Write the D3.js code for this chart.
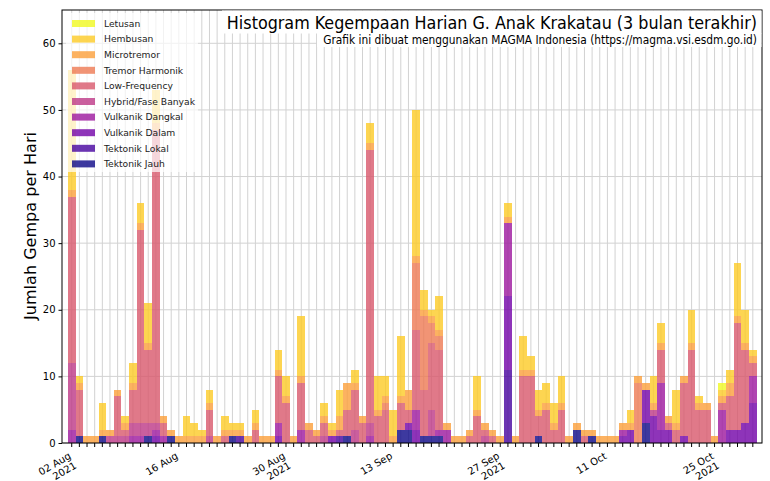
<!DOCTYPE html>
<html><head><meta charset="utf-8">
<script src="https://cdn.jsdelivr.net/npm/d3@7"></script>
<style>body{margin:0;background:#fff} svg{display:block}</style>
</head><body>
<svg id="c" width="770" height="481"></svg>
<script>
// ---------- DATA ----------
const startDate = Date.UTC(2021, 7, 2); // 02 Aug 2021, 90 days
const categories = ["Tektonik Jauh","Tektonik Lokal","Vulkanik Dalam","Vulkanik Dangkal","Hybrid/Fase Banyak","Low-Frequency","Tremor Harmonik","Microtremor","Hembusan","Letusan"];
const tektonikJauh = [0,1,0,0,1,0,0,0,0,0, 1,0,0,1,0,0,0,0,0,0, 0,1,0,0,0,0,0,0,0,0, 0,0,0,0,0,0,1,0,0,0, 0,0,0,2,2,0,1,1,1,0, 0,0,0,0,0,0,0,0,0,0, 0,1,0,0,0,0,2,0,1,0, 0,0,0,0,0,3,0,0,0,0, 0,0,0,0,0,0,0,0,0,0];
const tektonikLokal = [0,0,0,0,0,0,0,0,0,0, 0,0,0,0,0,0,0,0,0,0, 0,0,1,0,0,0,0,0,0,0, 0,0,0,0,0,1,0,0,0,0, 0,0,0,0,0,0,0,0,0,0, 0,0,0,0,0,0,0,11,0,0, 0,0,0,0,0,0,0,0,0,0, 0,0,0,0,0,0,0,0,0,0, 0,0,0,0,0,0,0,0,0,0];
const vulkanikDalam = [0,0,0,0,0,0,0,0,0,0, 0,1,0,0,0,0,0,0,0,0, 0,0,0,0,0,0,0,1,0,0, 0,0,0,0,1,0,0,0,0,0, 0,0,0,0,1,2,0,0,0,0, 0,0,0,0,0,0,0,11,0,0, 0,0,0,0,0,0,0,0,0,0, 0,0,1,2,0,5,4,2,2,0, 1,0,0,0,0,0,2,2,3,6];
const vulkanikDangkal = [2,0,0,0,0,0,0,0,1,1, 0,1,1,0,0,0,0,0,0,0, 0,0,0,0,0,0,0,2,0,0, 2,0,0,0,0,0,0,0,0,1, 0,0,0,0,0,3,0,0,1,2, 0,0,0,0,0,0,0,11,0,0, 0,0,0,0,0,0,0,0,0,0, 0,0,1,0,0,0,0,7,0,0, 0,0,0,0,0,5,0,0,0,4];
const hybrid = [10,0,0,0,0,1,1,1,2,2, 2,1,0,0,0,0,0,0,1,0, 0,0,0,0,0,0,0,0,0,0, 0,0,0,1,0,0,0,2,0,2, 0,0,0,0,0,0,0,4,0,0, 0,0,0,0,1,0,0,0,0,0, 0,0,0,0,0,0,0,0,0,0, 0,0,0,0,0,0,1,0,0,0, 0,0,0,0,0,0,0,0,0,0];
const lowFrequency = [25,7,0,0,0,0,6,1,5,29, 11,44,2,0,0,0,0,0,4,0, 1,0,0,0,2,0,0,7,6,0, 7,2,1,2,0,1,4,6,3,41, 4,5,0,4,2,12,7,10,12,0, 0,0,1,4,1,1,0,0,0,10, 10,3,5,2,5,0,0,1,0,0, 0,0,0,0,0,0,0,5,1,2, 8,14,5,5,0,1,5,16,11,2];
const tremorHarmonik = [0,0,0,0,0,0,0,0,0,0, 0,0,0,0,0,0,0,0,0,0, 0,0,0,0,0,0,0,0,0,0, 0,0,0,0,0,0,0,0,0,0, 0,1,0,0,0,10,11,3,2,0, 0,0,0,0,0,0,0,0,0,0, 0,0,0,0,0,0,0,0,0,0, 0,0,0,0,9,0,0,0,0,0, 0,0,0,0,0,0,0,0,0,0];
const microtremor = [1,1,1,1,1,1,1,1,1,1, 1,1,1,1,1,1,1,1,1,1, 1,1,1,1,1,1,1,1,1,1, 1,1,1,1,1,2,4,1,1,1, 1,1,1,1,3,1,1,1,1,1, 1,1,1,1,1,1,1,1,1,1, 1,1,1,1,1,1,1,1,1,1, 1,1,1,1,1,1,1,1,1,1, 1,1,1,1,1,1,2,1,1,1];
const hembusan = [18,1,0,0,4,0,0,1,3,3, 6,5,0,0,0,3,2,1,2,0, 2,1,1,0,2,0,0,3,3,0, 9,0,0,2,1,4,0,2,0,3, 5,3,4,9,0,22,3,1,5,0, 0,0,0,5,0,0,0,2,0,5, 2,3,3,3,4,0,0,0,0,0, 0,0,0,2,0,0,4,3,0,5, 0,5,1,0,0,1,2,8,5,1];
const letusan = [0,0,0,0,0,0,0,0,0,0, 0,0,0,0,0,0,0,0,0,0, 0,0,0,0,0,0,0,0,0,0, 0,0,0,0,0,0,0,0,0,0, 0,0,0,0,0,0,0,0,0,0, 0,0,0,0,0,0,0,0,0,0, 0,0,0,0,0,0,0,0,0,0, 0,0,0,0,0,0,0,0,0,0, 0,0,0,0,0,1,0,0,0,0];
const yTicks = [0,10,20,30,40,50,60];
const xLabelDays = [0,14,28,42,56,70,84];
const xLabels = [["02 Aug","2021"],["16 Aug"],["30 Aug","2021"],["13 Sep"],["27 Sep","2021"],["11 Oct"],["25 Oct","2021"]];
const titleText = "Histogram Kegempaan Harian G. Anak Krakatau (3 bulan terakhir)";
const subtitleText = "Grafik ini dibuat menggunakan MAGMA Indonesia (https://magma.vsi.esdm.go.id)";
const yLabelText = "Jumlah Gempa per Hari";

// ---------- BUILD ----------
const series = [tektonikJauh,tektonikLokal,vulkanikDalam,vulkanikDangkal,hybrid,lowFrequency,tremorHarmonik,microtremor,hembusan,letusan];
const DAY = 86400000;
const rows = d3.range(90).map(i => {
  const r = {date: new Date(startDate + i*DAY)};
  categories.forEach((c,k) => r[c] = series[k][i]);
  return r;
});
const colors = categories.map((c,k) => d3.interpolatePlasma(k/9));
const color = d3.scaleOrdinal(categories, colors);

const svg = d3.select("#c");
const L = 62, R = 762, T = 10, B = 443;
const x = d3.scaleUtc().domain([new Date(startDate - 1.27*DAY), new Date(startDate + 90.2*DAY)]).range([L, R]);
const y = d3.scaleLinear().domain([0, 65]).range([B, T]);
const font = "DejaVu Sans, sans-serif";
const condFont = "'DejaVu Sans Condensed', 'Liberation Sans Narrow', 'DejaVu Sans', sans-serif";

function fitText(sel, width, base) {
  sel.attr("font-size", base);
  const w = sel.node().getComputedTextLength();
  sel.attr("font-size", (base * width / w).toFixed(2));
  return sel;
}

// grid
const g = svg.append("g");
g.selectAll(".vg").data(rows).join("line")
  .attr("x1", d => x(d.date)).attr("x2", d => x(d.date))
  .attr("y1", T).attr("y2", B).attr("stroke", "#d2d2d2").attr("stroke-width", 1);
g.selectAll(".hg").data(yTicks).join("line")
  .attr("x1", L).attr("x2", R).attr("y1", d => y(d)).attr("y2", d => y(d))
  .attr("stroke", "#d2d2d2").attr("stroke-width", 1);

// bars
const stacked = d3.stack().keys(categories)(rows);
svg.append("g").selectAll("g").data(stacked).join("g")
  .attr("fill", d => color(d.key)).attr("fill-opacity", 0.8)
  .selectAll("rect").data(d => d.filter(p => p[1] > p[0])).join("rect")
  .attr("shape-rendering", "crispEdges")
  .attr("x", d => x(new Date(+d.data.date - DAY/2)))
  .attr("width", d => x(new Date(+d.data.date + DAY/2)) - x(new Date(+d.data.date - DAY/2)))
  .attr("y", d => y(d[1])).attr("height", d => y(d[0]) - y(d[1]));

// frame
svg.append("rect").attr("x", L).attr("y", T).attr("width", R-L).attr("height", B-T)
  .attr("fill", "none").attr("stroke", "#000").attr("stroke-width", 1);

// y axis
const ya = svg.append("g").attr("transform", `translate(${L},0)`)
  .call(d3.axisLeft(y).tickValues(yTicks).tickSize(3.5).tickPadding(3));
ya.select(".domain").remove();
ya.selectAll("text").attr("font-family", font).attr("font-size", 10).attr("fill", "#000");
ya.selectAll("line").attr("stroke", "#000");

// x ticks (daily)
svg.append("g").selectAll("line").data(rows).join("line")
  .attr("x1", d => x(d.date)).attr("x2", d => x(d.date))
  .attr("y1", B).attr("y2", B + 4).attr("stroke", "#000");
const xl = svg.append("g").selectAll("g").data(xLabelDays).join("g")
  .attr("transform", d => `translate(${x(new Date(startDate + d*DAY)) - 4},${B + 8}) rotate(-30)`);
xl.each(function(d, j) {
  const t = d3.select(this).append("text").attr("text-anchor", "end")
    .attr("font-family", font).attr("font-size", 10).attr("fill", "#000");
  xLabels[j].forEach((s, n) => t.append("tspan").attr("x", 0).attr("y", 8 + n*11).text(s));
});

// y label
const yl = svg.append("text").attr("transform", "translate(36,226) rotate(-90)")
  .attr("text-anchor", "middle").attr("font-family", font).text(yLabelText);
fitText(yl, 188, 14);

// title boxes
svg.append("rect").attr("x", 222).attr("y", T+0.5).attr("width", R-222-0.5).attr("height", 23).attr("fill", "#fff");
svg.append("rect").attr("x", 317).attr("y", T+23).attr("width", R-317-0.5).attr("height", 14).attr("fill", "#fff");
const tt = svg.append("text").attr("x", 757).attr("y", 28.5).attr("text-anchor", "end")
  .attr("font-family", condFont).text(titleText);
fitText(tt, 530, 20);
const st = svg.append("text").attr("x", 757).attr("y", 43.5).attr("text-anchor", "end")
  .attr("font-family", condFont).text(subtitleText);
fitText(st, 434, 12);

// legend
const lg = svg.append("g");
lg.append("rect").attr("x", 66).attr("y", 13).attr("width", 132).attr("height", 159)
  .attr("fill", "#fff").attr("fill-opacity", 0.7);
const legendItems = categories.slice().reverse();
const li = lg.selectAll(".li").data(legendItems).join("g")
  .attr("transform", (d, i) => `translate(0,${23.5 + i*15.6})`);
li.append("rect").attr("x", 72).attr("y", -3.5).attr("width", 23).attr("height", 7)
  .attr("fill", d => color(d)).attr("fill-opacity", 0.8);
li.append("text").attr("x", 104).attr("y", 0).attr("dy", "0.35em")
  .attr("font-family", font).attr("font-size", 9.2).attr("fill", "#222").text(d => d);
</script>
</body></html>
